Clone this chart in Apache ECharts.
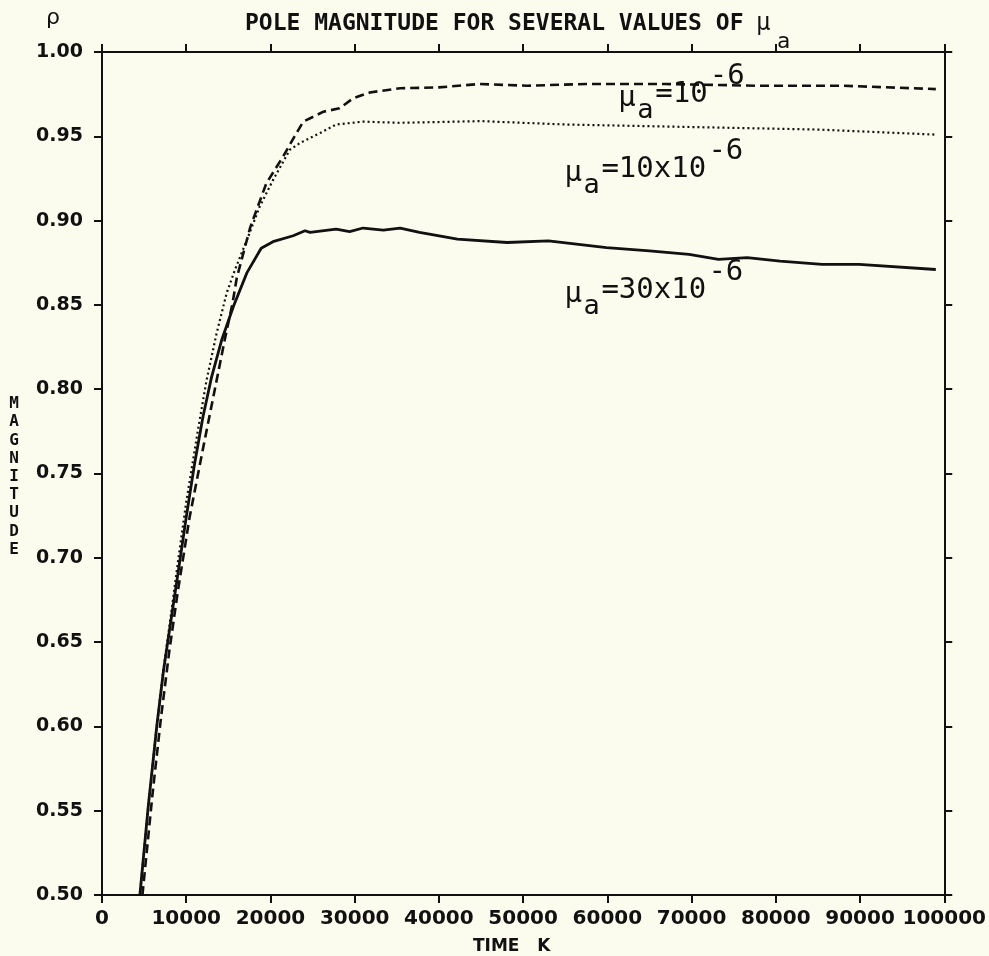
<!DOCTYPE html>
<html>
<head>
<meta charset="utf-8">
<script src="https://cdn.jsdelivr.net/npm/echarts@6/dist/echarts.min.js"></script>
<style>
html,body{margin:0;padding:0;background:#fbfbee;}
#chart{width:989px;height:956px;}
</style>
</head>
<body>
<div id="chart"></div>
<script>
// ---- data (time K, pole magnitude rho) ----
const mu1Time = [4800, 6000, 7000, 8000, 9000, 10400, 12000, 13400, 14600, 15500, 16000, 17600, 19500, 21500, 23100, 23900, 26300, 28200, 29800, 31800, 35400, 40000, 44800, 50500, 57500, 66900, 77700, 88000, 99000];
const mu1Val  = [0.500, 0.560, 0.605, 0.645, 0.680, 0.724, 0.765, 0.800, 0.830, 0.851, 0.866, 0.896, 0.922, 0.938, 0.952, 0.9587, 0.9646, 0.9666, 0.9725, 0.976, 0.9785, 0.979, 0.981, 0.980, 0.981, 0.981, 0.980, 0.980, 0.978];

const mu10Time = [4500, 5500, 6500, 7300, 8100, 9000, 10000, 11400, 12400, 13600, 14800, 15800, 17200, 18700, 20300, 22300, 23500, 25900, 27800, 31000, 35400, 45000, 55000, 65000, 75000, 85000, 99000];
const mu10Val  = [0.500, 0.553, 0.600, 0.634, 0.663, 0.697, 0.733, 0.776, 0.805, 0.833, 0.857, 0.871, 0.8885, 0.908, 0.924, 0.942, 0.946, 0.952, 0.957, 0.9587, 0.958, 0.959, 0.957, 0.956, 0.955, 0.954, 0.951];

const mu30Time = [4500, 5500, 6500, 7300, 8100, 9000, 10000, 11000, 12000, 13000, 14200, 15600, 17200, 18900, 20300, 22700, 24100, 24700, 27800, 29400, 31000, 33400, 35400, 37700, 42200, 48100, 53000, 59900, 65000, 69700, 73200, 76600, 80500, 85500, 89900, 99000];
const mu30Val  = [0.500, 0.553, 0.600, 0.633, 0.660, 0.690, 0.724, 0.756, 0.784, 0.807, 0.829, 0.849, 0.869, 0.8836, 0.8875, 0.891, 0.894, 0.893, 0.895, 0.8935, 0.8956, 0.8944, 0.8956, 0.893, 0.889, 0.887, 0.888, 0.884, 0.882, 0.880, 0.877, 0.878, 0.876, 0.874, 0.874, 0.871];

const xTickLabels = ['0', '10000', '20000', '30000', '40000', '50000', '60000', '70000', '80000', '90000', '100000'];
const yTickLabels = ['0.50', '0.55', '0.60', '0.65', '0.70', '0.75', '0.80', '0.85', '0.90', '0.95', '1.00'];

const curveLabels = [
  { main: '=10',    sup: '-6', at: [61300, 0.975] },
  { main: '=10x10', sup: '-6', at: [54900, 0.9306] },
  { main: '=30x10', sup: '-6', at: [54900, 0.8588] }
];

const zip = (a, b) => a.map((v, i) => [v, b[i]]);

const INK = '#111';
const chart = echarts.init(document.getElementById('chart'), null, { renderer: 'canvas' });

const axisCommon = {
  type: 'value',
  axisLine: { show: true, onZero: false, lineStyle: { color: INK, width: 2 } },
  axisTick: { show: true, inside: false, length: 8, lineStyle: { color: INK, width: 2 } },
  splitLine: { show: false }
};

const option = {
  backgroundColor: '#fbfbee',
  animation: false,
  grid: { left: 102, right: 44, top: 52, bottom: 61, containLabel: false },
  xAxis: [
    Object.assign({}, axisCommon, {
      position: 'bottom', min: 0, max: 100000, interval: 10000,
      axisLabel: {
        margin: 14, color: INK, fontFamily: 'DejaVu Sans', fontWeight: 'bold', fontSize: 20,
        formatter: (v) => xTickLabels[Math.round(v / 10000)]
      }
    }),
    Object.assign({}, axisCommon, {
      position: 'top', min: 0, max: 100000, interval: 10000,
      axisLabel: { show: false }
    })
  ],
  yAxis: [
    Object.assign({}, axisCommon, {
      position: 'left', min: 0.5, max: 1.0, interval: 0.05,
      axisLabel: {
        margin: 19, color: INK, fontFamily: 'DejaVu Sans', fontWeight: 'bold', fontSize: 19,
        formatter: (v) => yTickLabels[Math.round((v - 0.5) / 0.05)]
      }
    }),
    Object.assign({}, axisCommon, {
      position: 'right', min: 0.5, max: 1.0, interval: 0.05,
      axisLabel: { show: false }
    })
  ],
  series: [
    {
      name: 'mu1', type: 'line', data: zip(mu1Time, mu1Val), showSymbol: false, symbol: 'none',
      lineStyle: { color: INK, width: 2.6, type: [9, 5] }, clip: true
    },
    {
      name: 'mu10', type: 'line', data: zip(mu10Time, mu10Val), showSymbol: false, symbol: 'none',
      lineStyle: { color: INK, width: 2.2, type: [2, 3] }, clip: true
    },
    {
      name: 'mu30', type: 'line', data: zip(mu30Time, mu30Val), showSymbol: false, symbol: 'none',
      lineStyle: { color: INK, width: 2.8 }, clip: true
    }
  ]
};
chart.setOption(option);

// ---- text graphics ----
const mono = 'DejaVu Sans Mono';
const g = [];
function txt(x, y, text, font, opts) {
  g.push({
    type: 'text', x: x, y: y, silent: true,
    style: Object.assign({ text: text, font: font, fill: INK, verticalAlign: 'middle', align: 'left' }, opts || {})
  });
}
// title
txt(245, 24, 'POLE MAGNITUDE FOR SEVERAL VALUES OF', 'bold 23px "' + mono + '"');
txt(756, 24, 'μ', '24px "' + mono + '"');
txt(777, 42, 'a', '22px "' + mono + '"');
// rho
txt(46, 18, 'ρ', '22px "DejaVu Sans"');
// axis name (stacked)
const yName = 'MAGNITUDE'.split('');
yName.forEach((c, i) => txt(14, 404 + i * 18.2, c, 'bold 16px "' + mono + '"', { align: 'center' }));
// x axis name
txt(473, 947, 'TIME   K', 'bold 17px "DejaVu Sans"');

// curve labels anchored in data coordinates
const CH = 17.5; // char advance at 29px mono
curveLabels.forEach((L) => {
  const p = chart.convertToPixel({ xAxisIndex: 0, yAxisIndex: 0 }, L.at);
  const x0 = p[0], yc = p[1];
  txt(x0, yc + 4, 'μ', '29px "' + mono + '"');
  txt(x0 + 19, yc + 17, 'a', '27px "' + mono + '"');
  txt(x0 + 37, yc, L.main, '29px "' + mono + '"');
  txt(x0 + 37 + L.main.length * CH + 2, yc - 18, L.sup, '29px "' + mono + '"');
});
chart.setOption({ graphic: g });
</script>
</body>
</html>
